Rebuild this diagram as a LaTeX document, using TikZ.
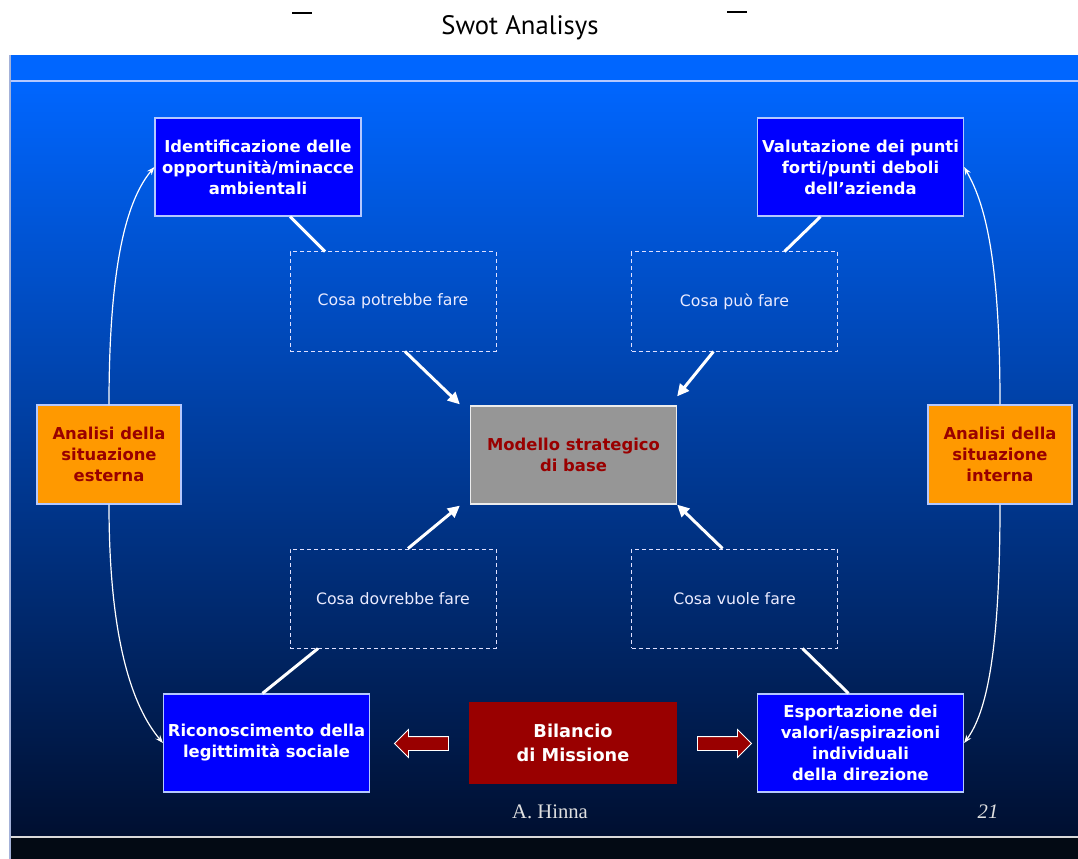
\documentclass[tikz,border=0pt]{standalone}
\usepackage{fontspec}
\setmainfont{DejaVu Sans}
\newfontfamily\titlefont{PT Sans}
\newfontfamily\footfont{Liberation Serif}
\usetikzlibrary{shapes.arrows, arrows.meta, positioning, calc}

\definecolor{panelblue}{HTML}{0066FF}
\definecolor{panelmid}{HTML}{004CC0}
\definecolor{paneldark}{HTML}{000F30}
\definecolor{footdark}{HTML}{030A14}
\definecolor{boxblue}{HTML}{0000FF}
\definecolor{boxorange}{HTML}{FF9900}
\definecolor{boxgray}{HTML}{969696}
\definecolor{darkred}{HTML}{990000}
\definecolor{edgelight}{HTML}{B4C8FF}

\tikzset{
  bluebox/.style={draw=edgelight, line width=0.9pt, fill=boxblue, text=white,
    font=\bfseries\fontsize{12.3}{15.8}\selectfont, align=center,
    minimum width=154.5pt, minimum height=73.5pt, inner sep=0pt},
  sidebox/.style={bluebox, fill=boxorange, text=darkred, minimum width=108pt, minimum height=74.25pt},
  modelbox/.style={bluebox, fill=boxgray, draw=white!85!gray, text=darkred},
  dashbox/.style={draw=white!88!blue, dashed, dash pattern=on 3pt off 2.25pt, line width=0.75pt,
    text=white!92!blue, font=\fontsize{11.8}{14}\selectfont,
    minimum width=154.5pt, minimum height=74.25pt, inner sep=0pt},
  missionbox/.style={fill=darkred, text=white, font=\bfseries\fontsize{13.3}{18.5}\selectfont,
    align=center, minimum width=156pt, minimum height=61.5pt, inner sep=0pt},
  blockarrow/.style={single arrow, fill=darkred, draw=white, line width=0.6pt,
    minimum height=40.5pt, inner sep=4.875pt, single arrow head extend=5.25pt},
  link/.style={white, line width=2.25pt},
  linkarrow/.style={link, -{Triangle[length=9pt,width=8.5pt]}},
  loopline/.style={white, line width=0.9pt, -{Stealth[length=6pt,width=4.5pt]}},
  titlemark/.style={fill=black, minimum width=15pt, minimum height=1.5pt, inner sep=0pt},
  foottext/.style={text=white!88!black, font=\footfont\fontsize{15.5}{18}\selectfont}
}

\begin{document}
\begin{tikzpicture}[x=0.75pt, y=-0.75pt]
  \useasboundingbox (0,0) rectangle (1078,859);

  % background
  \fill[white] (0,0) rectangle (1078,859);
  \fill[panelblue] (10,55) rectangle (1078,81);
  \shade[top color=panelblue, middle color=panelmid, bottom color=paneldark] (10,81) rectangle (1078,837);
  \fill[footdark] (10,837) rectangle (1078,859);
  \draw[edgelight, line width=1pt] (10,81) -- (1078,81);
  \draw[white!70!gray, line width=1.2pt] (10,837) -- (1078,837);
  \draw[edgelight!70!gray, line width=0.8pt] (10,55) -- (10,859);

  % title
  \node[font=\titlefont\fontsize{20}{22}\selectfont] (title) at (520,28) {Swot Analisys};
  \node[titlemark] (markL) at (302,13) {};
  \node[titlemark] (markR) at (737,12) {};

  % boxes
  \node[bluebox] (opp) at (258,167) {Identificazione delle\\opportunità/minacce\\ambientali};
  \node[bluebox] (val) at (860.5,167) {Valutazione dei punti\\forti/punti deboli\\dell’azienda};
  \node[dashbox] (potrebbe) at (393,301.5) {Cosa potrebbe fare};
  \node[dashbox] (puo) at (734.5,301.5) {Cosa può fare};
  \node[modelbox] (model) at (573.5,455) {Modello strategico\\di base};
  \node[sidebox] (ext) at (109,454.5) {Analisi della\\situazione\\esterna};
  \node[sidebox] (int) at (1000,454.5) {Analisi della\\situazione\\interna};
  \node[dashbox] (dovrebbe) at (393,598.5) {Cosa dovrebbe fare};
  \node[dashbox] (vuole) at (734.5,598.5) {Cosa vuole fare};
  \node[bluebox] (ricon) at (266.5,743) {Riconoscimento della\\legittimità sociale};
  \node[missionbox] (mission) at (573,743) {Bilancio\\di Missione};
  \node[bluebox] (esport) at (860.5,743) {Esportazione dei\\valori/aspirazioni\\individuali\\della direzione};

  % block arrows
  \node[blockarrow, shape border rotate=180] (arrL) at (425,743.5) {};
  \node[blockarrow] (arrR) at (721,743.5) {};

  % connectors
  \draw[link] ($(opp.south)+(32,0)$) -- ($(potrebbe.north)+(-68,0)$);
  \draw[linkarrow] ($(potrebbe.south)+(12,0)$) -- ($(model.north west)+(-10,-1)$);
  \draw[link] ($(val.south)+(-40,0)$) -- ($(puo.north)+(50,0)$);
  \draw[linkarrow] ($(puo.south)+(-21,0)$) -- ($(model.north east)+(0,-9)$);
  \draw[linkarrow] ($(dovrebbe.north)+(15,0)$) -- ($(model.south west)+(-10,1)$);
  \draw[linkarrow] ($(vuole.north)+(-12,0)$) -- (model.south east);
  \draw[link] ($(dovrebbe.south)+(-75,0)$) -- ($(ricon.north)+(-4,0)$);
  \draw[link] ($(vuole.south)+(68,0)$) -- ($(esport.north)+(-12,0)$);

  % loops round the sides
  \draw[loopline] (ext.north) .. controls +(0,-150) and +(-25,30) .. (opp.west);
  \draw[loopline] (ext.south) .. controls +(0,150) and +(-25,-30) .. (ricon.west);
  \draw[loopline] (int.north) .. controls +(0,-150) and +(20,35) .. (val.east);
  \draw[loopline] (int.south) .. controls +(0,150) and +(22,-30) .. (esport.east);

  % footer
  \node[foottext] (author) at (550,812) {A. Hinna};
  \node[foottext, font=\footfont\itshape\fontsize{15.5}{18}\selectfont] (page) at (988,812) {21};
\end{tikzpicture}
\end{document}
